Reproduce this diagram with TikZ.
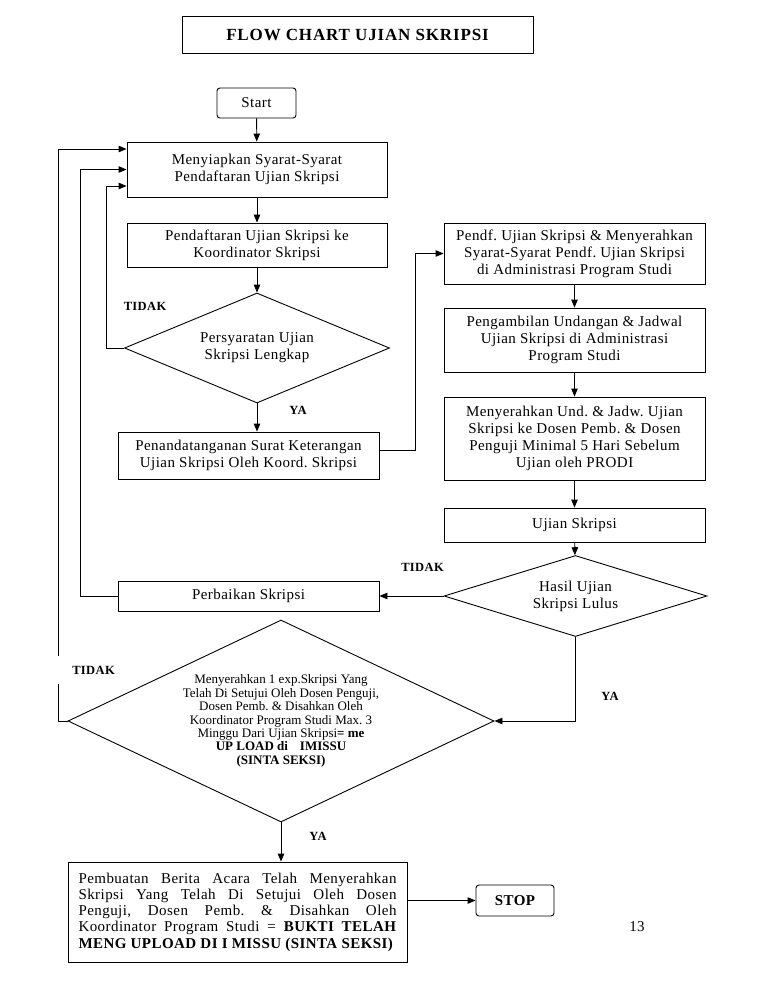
\documentclass[tikz,border=0pt]{standalone}
\usepackage{fontspec}
\setmainfont{Liberation Serif}
\newfontfamily\lsp[LetterSpace=3]{Liberation Serif}
\newfontfamily\ttl[LetterSpace=5]{Liberation Serif}
\usetikzlibrary{shapes.geometric,arrows.meta}
\frenchspacing
\tikzset{
  ln/.style={line width=0.9pt},
  arr/.style={ln, -{Triangle[length=8pt,width=6.5pt]}},
  pbox/.style={draw, ln, inner sep=0pt, align=center, font=\lsp\frenchspacing\fontsize{15}{17}\selectfont},
  dec/.style={draw, ln, shape=diamond, inner sep=0pt, align=center, font=\lsp\frenchspacing\fontsize{15}{17}\selectfont},
  lab/.style={inner sep=0pt, font=\lsp\bfseries\fontsize{12.5}{14}\selectfont},
}
\begin{document}
\begin{tikzpicture}[x=1pt,y=-1pt]
\useasboundingbox (0,0) rectangle (775,997);
% title
\node[draw, ln, minimum width=351pt, minimum height=37pt, inner sep=0pt,
      font=\ttl\bfseries\fontsize{17}{20}\selectfont] (title) at (357.5,34.5) {FLOW CHART UJIAN SKRIPSI};
% left column
\node[pbox, rounded corners=3pt, minimum width=79pt, minimum height=30pt] (start) at (256.5,103) {Start};
\node[pbox, minimum width=260pt, minimum height=55pt] (b1) at (257,169.5) {Menyiapkan Syarat-Syarat\\Pendaftaran Ujian Skripsi};
\node[pbox, minimum width=260pt, minimum height=44pt] (b2) at (257,245) {Pendaftaran Ujian Skripsi ke\\Koordinator Skripsi};
\node[dec, aspect=2.4, minimum width=265pt, minimum height=110pt] (d1) at (257,348) {Persyaratan Ujian\\Skripsi Lengkap};
\node[pbox, minimum width=261pt, minimum height=47pt] (b3) at (248.5,455.5) {Penandatanganan Surat Keterangan\\Ujian Skripsi Oleh Koord. Skripsi};
% right column
\node[pbox, minimum width=261pt, minimum height=61pt] (r1) at (574.5,253.5) {Pendf. Ujian Skripsi \& Menyerahkan\\Syarat-Syarat Pendf. Ujian Skripsi\\di Administrasi Program Studi};
\node[pbox, minimum width=261pt, minimum height=64pt] (r2) at (574.5,340) {Pengambilan Undangan \& Jadwal\\Ujian Skripsi di Administrasi\\Program Studi};
\node[pbox, minimum width=261pt, minimum height=83pt] (r3) at (574.5,438.5) {Menyerahkan Und. \& Jadw. Ujian\\Skripsi ke Dosen Pemb. \& Dosen\\Penguji Minimal 5 Hari Sebelum\\Ujian oleh PRODI};
\node[pbox, minimum width=261pt, minimum height=34pt] (r4) at (574.5,525) {Ujian Skripsi};
\node[dec, aspect=3.2, minimum width=263pt, minimum height=81pt] (d2) at (575.5,596) {Hasil Ujian\\Skripsi Lulus};
\node[pbox, minimum width=261pt, minimum height=30pt] (perb) at (248.5,596) {Perbaikan Skripsi};
% big decision
\node[draw, ln, shape=diamond, aspect=2.1, inner sep=0pt, align=center,
      font=\frenchspacing\fontsize{13}{13.4}\selectfont, minimum width=426pt, minimum height=202pt] (d3) at (281,721)
  {Menyerahkan 1 exp.Skripsi Yang\\Telah Di Setujui Oleh Dosen Penguji,\\Dosen Pemb. \& Disahkan Oleh\\Koordinator Program Studi Max. 3\\Minggu Dari Ujian Skripsi\textbf{= me}\\\textbf{UP LOAD di\hspace{12pt}IMISSU}\\\textbf{(SINTA SEKSI)}};
\node[draw, ln, inner sep=0pt, minimum width=339pt, minimum height=100pt, text width=318pt, align=justify,
      font=\lsp\frenchspacing\fontsize{15}{16.2}\selectfont] (fin) at (237.5,912)
  {Pembuatan Berita Acara Telah Menyerahkan\linebreak Skripsi Yang Telah Di Setujui Oleh Dosen\linebreak Penguji, Dosen Pemb. \& Disahkan Oleh\linebreak Koordinator Program Studi = \textbf{BUKTI TELAH}\linebreak \textbf{MENG UPLOAD DI I MISSU (SINTA SEKSI)}};
\node[draw, ln, rounded corners=3pt, inner sep=0pt, minimum width=78pt, minimum height=31pt,
      font=\lsp\bfseries\fontsize{15}{17}\selectfont] (stop) at (515,900.5) {STOP};
% connectors
\draw[arr] (start) -- (b1);
\draw[arr] (b1) -- (b2);
\draw[arr] (b2) -- (d1);
\draw[arr] (d1.south) -- (d1.south |- b3.north);
\draw[arr] (d1.west) -- ++(-18,0) |- ([yshift=-16.5pt]b1.west);
\draw[arr] (perb.west) -- ++(-37,0) |- (b1.west);
\draw[arr] (d3.west) -- ++(-9,0) |- ([yshift=20.5pt]b1.west);
\draw[arr] ([yshift=5.5pt]b3.east) -- ++(36,0) |- (r1.west);
\draw[arr] (r1) -- (r2);
\draw[arr] (r2) -- (r3);
\draw[arr] (r3) -- (r4);
\draw[arr] (r4) -- (d2);
\draw[arr] (d2.west) -- (perb.east);
\draw[arr] (d2.south) |- (d3.east);
\draw[arr] (d3.south) -- (d3.south |- fin.north);
\draw[arr] (fin.east |- stop.west) -- (stop.west);
% labels
\node[lab] (t1) at (145,306) {TIDAK};
\node[lab] (y1) at (298,410) {YA};
\node[lab] (t2) at (422.5,567) {TIDAK};
\node[lab] (y2) at (610,696) {YA};
\node[lab, fill=white, minimum width=76pt, minimum height=28pt] (t3) at (93.5,670) {TIDAK};
\node[lab] (y3) at (318,836) {YA};
\node[font=\lsp\fontsize{15}{17}\selectfont, inner sep=0pt] (pg) at (637,927) {13};
\end{tikzpicture}
\end{document}
